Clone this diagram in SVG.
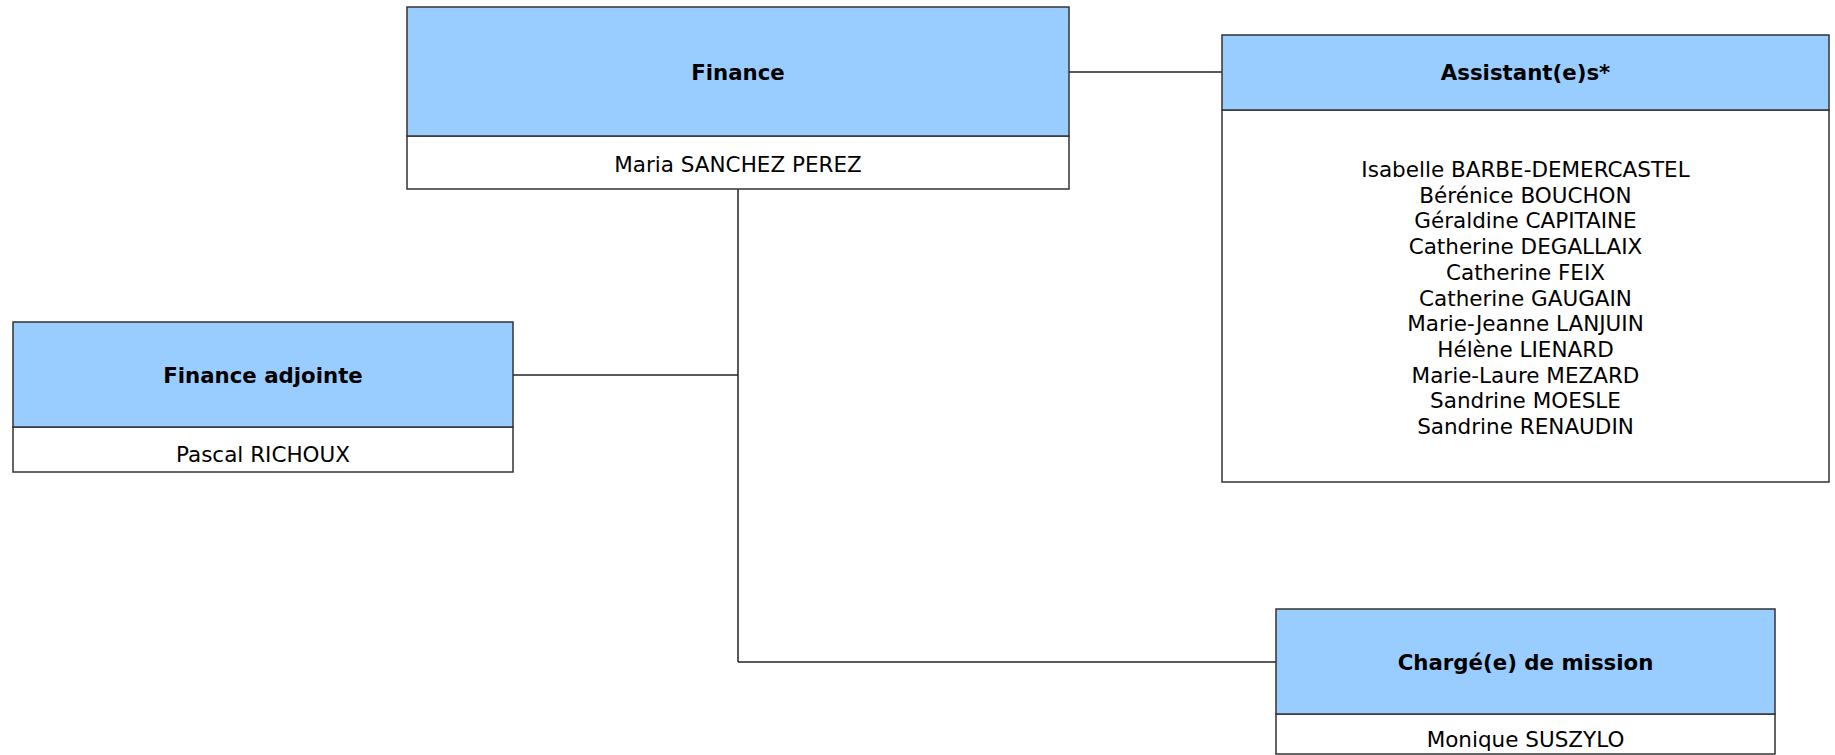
<svg xmlns="http://www.w3.org/2000/svg" width="1835" height="755" viewBox="0 0 1835 755">
<style>
.hd{fill:#99ccff;stroke:#333;stroke-width:1.5}
.bd{fill:#fff;stroke:#333;stroke-width:1.5}
.t{font-family:"DejaVu Sans",Verdana,sans-serif;font-size:21.5px;fill:#000;text-anchor:middle}
.b{font-family:"DejaVu Sans",Verdana,sans-serif;font-size:21.3px;font-weight:bold;fill:#000;text-anchor:middle}
.c{fill:none;stroke:#222;stroke-width:1.5}
</style>
<rect width="1835" height="755" fill="#fff"/>
<g id="connectors">
<line class="c" x1="1069" y1="72" x2="1222" y2="72"/>
<line class="c" x1="738" y1="189" x2="738" y2="662"/>
<line class="c" x1="513" y1="375" x2="738" y2="375"/>
<line class="c" x1="738" y1="662" x2="1276" y2="662"/>
</g>
<g id="finance">
<rect class="bd" x="407" y="136" width="662" height="53"/>
<rect class="hd" x="407" y="7" width="662" height="129"/>
<text class="b" x="738" y="80">Finance</text>
<text class="t" x="738" y="172">Maria SANCHEZ PEREZ</text>
</g>
<g id="assistants">
<rect class="bd" x="1222" y="110" width="607" height="372"/>
<rect class="hd" x="1222" y="35" width="607" height="75"/>
<text class="b" x="1525.5" y="80">Assistant(e)s*</text>
<text class="t" x="1525.5" y="177">Isabelle BARBE-DEMERCASTEL</text>
<text class="t" x="1525.5" y="202.7">Bérénice BOUCHON</text>
<text class="t" x="1525.5" y="228.4">Géraldine CAPITAINE</text>
<text class="t" x="1525.5" y="254.1">Catherine DEGALLAIX</text>
<text class="t" x="1525.5" y="279.8">Catherine FEIX</text>
<text class="t" x="1525.5" y="305.5">Catherine GAUGAIN</text>
<text class="t" x="1525.5" y="331.2">Marie-Jeanne LANJUIN</text>
<text class="t" x="1525.5" y="356.9">Hélène LIENARD</text>
<text class="t" x="1525.5" y="382.6">Marie-Laure MEZARD</text>
<text class="t" x="1525.5" y="408.3">Sandrine MOESLE</text>
<text class="t" x="1525.5" y="434">Sandrine RENAUDIN</text>
</g>
<g id="finance-adjointe">
<rect class="bd" x="13" y="427" width="500" height="45"/>
<rect class="hd" x="13" y="322" width="500" height="105"/>
<text class="b" x="263" y="383">Finance adjointe</text>
<text class="t" x="263" y="462">Pascal RICHOUX</text>
</g>
<g id="charge-mission">
<rect class="bd" x="1276" y="714" width="499" height="40"/>
<rect class="hd" x="1276" y="609" width="499" height="105"/>
<text class="b" x="1525.5" y="670">Chargé(e) de mission</text>
<text class="t" x="1525.5" y="747">Monique SUSZYLO</text>
</g>
</svg>
